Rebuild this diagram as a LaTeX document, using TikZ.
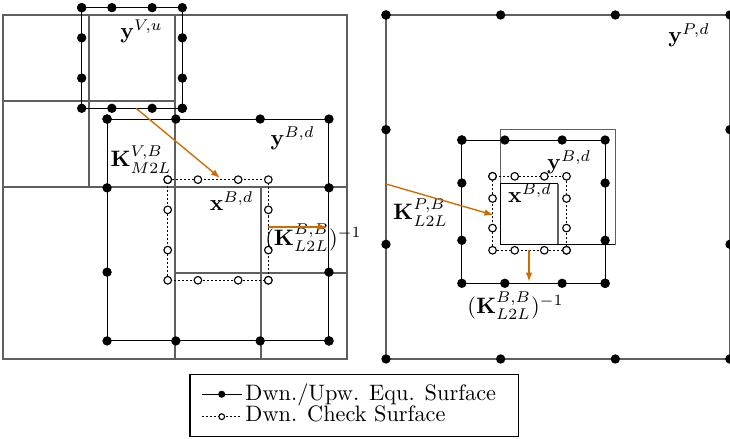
\documentclass[tikz,border=0pt]{standalone}
\usepackage{xcolor}
\usepackage{tikz}
\usetikzlibrary{
    arrows.meta,
    positioning,
    calc
}
\definecolor{gridgray}{RGB}{95,95,95}
\definecolor{maporange}{RGB}{204,108,0}
\tikzset{
    cell/.style={
        draw=gridgray,
        line width=0.6pt
    },
    equ/.style={
        draw=black,
        line width=0.45pt
    },
    check/.style={
        draw=black,
        dash pattern=on 0.9pt off 0.9pt,
        line width=0.5pt
    },
    equdot/.style={
        fill=black,
        radius=2.1pt
    },
    checkdot/.style={
        draw=black,
        fill=white,
        line width=0.5pt,
        radius=1.7pt
    },
    oper/.style={
        -{Latex[length=4pt,width=3pt]},
        draw=maporange,
        line width=0.6pt
    },
    lab/.style={
        inner sep=0pt
    }
}
% square surface: line style, dot style, centre, half side, dot fractions
\newcommand{\surf}[5]{%
    \draw[#1] ($(#3)+(-#4,-#4)$) rectangle ($(#3)+(#4,#4)$);
    \foreach \f in {#5} {
        \path[#2] ($(#3)+(\f*#4,-#4)$) circle[]
                  ($(#3)+(\f*#4,#4)$) circle[]
                  ($(#3)+(-#4,\f*#4)$) circle[]
                  ($(#3)+(#4,\f*#4)$) circle[];
    }
}

\begin{document}
\begin{tikzpicture}[x=1.354cm, y=1.354cm]
    \useasboundingbox (-0.035,-0.930) rectangle (8.453,4.174);

    % Left: M2L into box B
    \draw[cell] (0,0) rectangle (4,4);
    \draw[cell] (2,0) -- (2,4) (0,2) -- (4,2);
    \draw[cell] (1,2) -- (1,4) (0,3) -- (2,3);
    \draw[cell] (3,0) -- (3,2) (2,1) -- (4,1);

    \coordinate (V) at (1.5,3.5);
    \coordinate (B) at (2.5,1.5);
    \surf{equ}{equdot}{V}{0.585}{-1,-0.4,0.4,1}
    \surf{equ}{equdot}{B}{1.29}{-1,-0.38,0.38,1}
    \surf{check}{checkdot}{B}{0.585}{-1,-0.4,0.4,1}

    \node[lab] (yVu) at (1.61,3.814) {$\mathbf{y}^{V,u}$};
    \node[lab] (yBd) at (3.366,2.57) {$\mathbf{y}^{B,d}$};
    \node[lab] (Km2l) at (1.605,2.32) {$\mathbf{K}^{V,B}_{M2L}$};
    \node[lab] (xBd) at (2.657,1.837) {$\mathbf{x}^{B,d}$};
    \node[lab] (Kinv) at (3.61,1.41) {$(\mathbf{K}^{B,B}_{L2L})^{-1}$};

    \coordinate (m2l-s) at (1.547,2.915);
    \coordinate (m2l-t) at (2.523,2.105);
    \coordinate (inv-s) at (3.085,1.535);
    \coordinate (inv-t) at (3.767,1.535);
    \draw[oper] (m2l-s) -- (m2l-t);
    \draw[oper] (inv-s) -- (inv-t);

    % Right: L2L from parent P
    \begin{scope}[shift={(4.453,0)}]
        \coordinate (P) at (2,2);
        \coordinate (Bc) at (1.669,1.694);
        \coordinate (Be) at (1.715,1.713);
        \draw[cell] (1.333,1.333) rectangle (2.667,2.667);
        \draw[cell] (2,1.333) -- (2,2.04);
        \draw[equ] (2,2.04) -- (1.333,2.04) -- (1.333,1.333) -- (2.667,1.333);
        \surf{cell}{equdot}{P}{2}{-1,-0.3333,0.3333,1}
        \surf{equ}{equdot}{Be}{0.833}{-1,-0.4,0.4,1}
        \surf{check}{checkdot}{Bc}{0.43}{-1,-0.4,0.4,1}

        \node[lab] (yPd) at (3.523,3.762) {$\mathbf{y}^{P,d}$};
        \node[lab] (yBd2) at (2.13,2.285) {$\mathbf{y}^{B,d}$};
        \node[lab] (xBd2) at (1.674,1.93) {$\mathbf{x}^{B,d}$};
        \node[lab] (Kl2l) at (0.401,1.703) {$\mathbf{K}^{P,B}_{L2L}$};
        \node[lab] (Kinv2) at (1.506,0.616) {$(\mathbf{K}^{B,B}_{L2L})^{-1}$};

        \coordinate (l2l-s) at (0,2.035);
        \coordinate (l2l-t) at (1.248,1.674);
        \coordinate (inv2-s) at (1.663,1.264);
        \coordinate (inv2-t) at (1.663,0.9);
        \draw[oper] (l2l-s) -- (l2l-t);
        \draw[oper] (inv2-s) -- (inv2-t);
    \end{scope}

    % Legend
    \node[draw=black, line width=0.5pt, inner sep=0pt,
          minimum width=5.17cm, minimum height=0.982cm] (legend) at (4.083,-0.5405) {};
    \coordinate (le1-a) at (2.31,-0.41);
    \coordinate (le1-b) at (2.776,-0.41);
    \coordinate (le2-a) at (2.31,-0.671);
    \coordinate (le2-b) at (2.776,-0.671);
    \draw[equ] (le1-a) -- (le1-b);
    \path[equdot, radius=1.6pt] ($(le1-a)!0.5!(le1-b)$) circle[];
    \draw[check] (le2-a) -- (le2-b);
    \path[checkdot, radius=1.3pt] ($(le2-a)!0.5!(le2-b)$) circle[];
    \node[anchor=base west, inner sep=0pt] (leg1) at (2.814,-0.485) {Dwn./Upw. Equ. Surface};
    \node[anchor=base west, inner sep=0pt] (leg2) at (2.814,-0.729) {Dwn. Check Surface};
\end{tikzpicture}
\end{document}
